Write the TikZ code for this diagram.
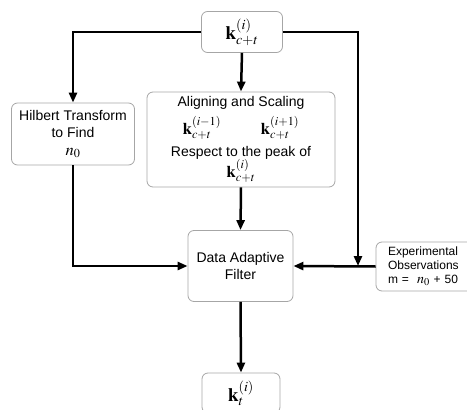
\documentclass[tikz,border=0pt]{standalone}
\usepackage{mathptmx}
\usepackage{fontspec}
\setmainfont{Liberation Sans}
\usetikzlibrary{arrows.meta,calc,positioning}

\begin{document}
\begin{tikzpicture}[x=1pt, y=-1pt,
  blk/.style={draw=gray!70, rounded corners=6pt, line width=0.8pt, align=center, inner sep=2pt, font=\fontsize{14}{17}\selectfont},
  big/.style={font=\fontsize{19}{21}\selectfont},
  flw/.style={line width=2.5pt, -{Triangle[length=10pt,width=8pt]}}]

    \newcommand{\mth}[1]{{\fontsize{16.5}{18}\selectfont$#1$}}

    \useasboundingbox (0,0) rectangle (467,410);

    \node[blk, big, minimum width=81pt, minimum height=41pt]  (src) at (242,32)    {$\mathbf{k}_{c+t}^{(i)}$};
    \node[blk, minimum width=123pt, minimum height=62pt]      (hil) at (73,134)    {Hilbert Transform\\to Find\\[1pt]\mth{n_0}};
    \node[blk, minimum width=188pt, minimum height=95pt,
          font=\fontsize{14}{20}\selectfont]                  (aln) at (241,139.5) {Aligning and Scaling\\[6pt]
                     \mth{\mathbf{k}_{c+t}^{(i-1)}\hspace{40pt}\mathbf{k}_{c+t}^{(i+1)}}\\[2pt]
                     Respect to the peak of\\[-1pt]\mth{\mathbf{k}_{c+t}^{(i)}}};
    \node[blk, minimum width=105pt, minimum height=71pt]      (dat) at (240.5,266) {Data Adaptive\\Filter};
    \node[blk, align=left, text width=100pt, inner xsep=12pt, minimum height=49pt,
          font=\fontsize{12}{14}\selectfont]                  (obs) at (438,266.5) {Experimental\\Observations\\m = \ {\fontsize{14}{14}\selectfont$n_0$} + 50};
    \node[blk, big, minimum width=78pt, minimum height=40pt]  (out) at (241,393)   {$\mathbf{k}_{t}^{(i)}$};

    \coordinate (jn) at (358,266);

    \draw[flw] (src.west) -| (hil.north);
    \draw[flw] (src.south) -- (aln.north);
    \draw[flw] (src.east) -| (jn);
    \draw[flw] (hil.south) |- (dat.west);
    \draw[flw] (aln.south) -- (dat.north);
    \draw[flw] (obs.west) -- (dat.east);
    \draw[flw] (dat.south) -- (out.north);

\end{tikzpicture}
\end{document}
